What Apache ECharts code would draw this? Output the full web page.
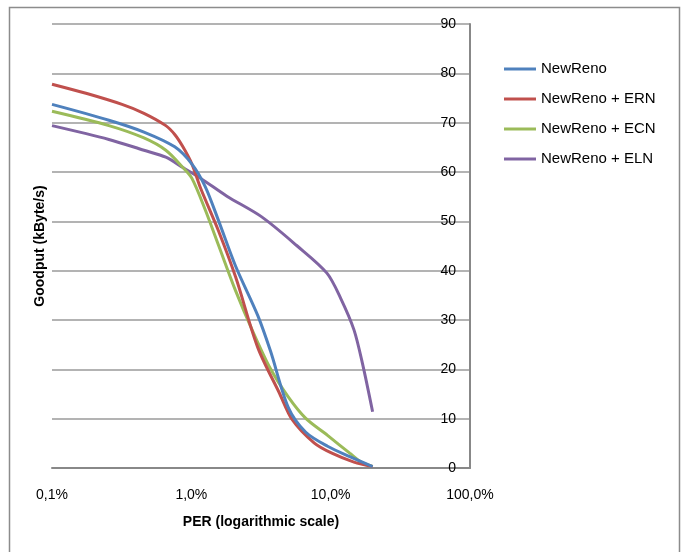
<!DOCTYPE html>
<html>
<head>
<meta charset="utf-8">
<script src="https://cdn.jsdelivr.net/npm/echarts@6/dist/echarts.min.js"></script>
<style>
  html, body { margin: 0; padding: 0; background: #fff; }
  #chart { width: 684px; height: 552px; }
</style>
</head>
<body>
<div id="chart"></div>
<script>
const seriesNames = ['NewReno', 'NewReno + ERN', 'NewReno + ECN', 'NewReno + ELN']
const xTicks = [0.1, 1, 10, 100]
const yTicks = [0, 10, 20, 30, 40, 50, 60, 70, 80, 90]

// PER in %, goodput in kByte/s
const perNewReno = [0.1, 0.256, 0.457, 0.76, 1.01, 1.26, 1.57, 2.08, 3.0, 3.7, 4.96, 6.6, 9.5, 13.7, 20]
const goodNewReno = [73.7, 70.5, 68.1, 65.1, 61.6, 57.0, 50.1, 40.9, 30.9, 23.7, 12.3, 7.3, 4.4, 2.3, 0.3]

const perERN = [0.1, 0.178, 0.318, 0.457, 0.656, 0.76, 0.87, 1.01, 1.17, 1.57, 2.08, 3.0, 4.3, 5.3, 7.6, 10.2, 14.7, 20]
const goodERN = [77.8, 75.9, 73.7, 71.9, 69.4, 67.6, 65.1, 61.6, 56.6, 48.0, 38.7, 24.4, 15.1, 9.8, 5.1, 3.0, 1.2, 0.3]

const perECN = [0.1, 0.256, 0.457, 0.656, 0.87, 1.01, 1.26, 1.57, 2.08, 2.8, 3.7, 4.96, 6.6, 9.5, 13.7, 16.5, 20]
const goodECN = [72.3, 69.4, 66.9, 64.4, 60.9, 58.7, 52.3, 45.1, 35.9, 27.3, 20.1, 14.4, 10.1, 6.6, 3.0, 1.2, 0.3]

const perELN = [0.1, 0.256, 0.457, 0.656, 0.87, 1.17, 1.8, 3.2, 5.7, 9.4, 11.8, 14.7, 17.0, 20]
const goodELN = [69.4, 66.6, 64.4, 63.0, 60.9, 58.7, 55.1, 50.9, 45.1, 39.5, 34.4, 28.0, 20.9, 11.4]

const colors = ['#4F81BD', '#C0504D', '#9BBB59', '#8064A2']

const zip = (xs, ys) => xs.map((x, i) => [x, ys[i]])
const seriesData = [
  zip(perNewReno, goodNewReno),
  zip(perERN, goodERN),
  zip(perECN, goodECN),
  zip(perELN, goodELN)
]

const chart = echarts.init(document.getElementById('chart'))
const font = 'Liberation Sans, Arial, sans-serif'

chart.setOption({
  animation: false,
  color: colors,
  textStyle: { fontFamily: font },
  graphic: [
    {
      type: 'rect',
      shape: { x: 9.5, y: 7.5, width: 670, height: 560 },
      style: { fill: 'none', stroke: '#8c8c8c', lineWidth: 1.5 },
      silent: true
    }
  ],
  legend: {
    orient: 'vertical',
    left: 499,
    top: 56,
    icon: 'rect',
    itemWidth: 32,
    itemHeight: 3,
    itemGap: 14,
    data: seriesNames,
    textStyle: { fontSize: 15, color: '#000', lineHeight: 16, fontFamily: font }
  },
  grid: { left: 52, right: 214, top: 24, bottom: 84, containLabel: false },
  xAxis: {
    type: 'log',
    logBase: 10,
    min: 0.1,
    max: 100,
    name: 'PER (logarithmic scale)',
    nameLocation: 'middle',
    nameGap: 47,
    nameTextStyle: { fontSize: 14, fontWeight: 'bold', color: '#000', fontFamily: font },
    axisLine: { show: true, lineStyle: { color: '#888', width: 2 } },
    axisTick: { show: false },
    splitLine: { show: false },
    minorTick: { show: false },
    axisLabel: {
      fontSize: 14,
      color: '#000',
      margin: 20,
      formatter: v => xTicks.includes(+v.toPrecision(3)) ? v.toFixed(1).replace('.', ',') + '%' : ''
    }
  },
  yAxis: [
    {
      type: 'value',
      position: 'right',
      min: yTicks[0],
      max: yTicks[yTicks.length - 1],
      interval: 10,
      axisLine: { show: true, lineStyle: { color: '#888', width: 2 } },
      axisTick: { show: false },
      splitLine: { show: true, lineStyle: { color: '#9a9a9a', width: 1.5 } },
      axisLabel: { inside: true, margin: 14, fontSize: 14, color: '#000' }
    },
    {
      type: 'value',
      position: 'left',
      min: 0,
      max: 90,
      name: 'Goodput (kByte/s)',
      nameLocation: 'middle',
      nameGap: 5,
      nameTextStyle: { fontSize: 14, fontWeight: 'bold', color: '#000', fontFamily: font },
      axisLine: { show: false },
      axisTick: { show: false },
      axisLabel: { show: false },
      splitLine: { show: false }
    }
  ],
  series: seriesNames.map((name, i) => ({
    name,
    type: 'line',
    yAxisIndex: 0,
    data: seriesData[i],
    smooth: 0.3,
    showSymbol: false,
    symbol: 'none',
    lineStyle: { width: 3, color: colors[i] },
    z: 10 - i
  }))
})
</script>
</body>
</html>
